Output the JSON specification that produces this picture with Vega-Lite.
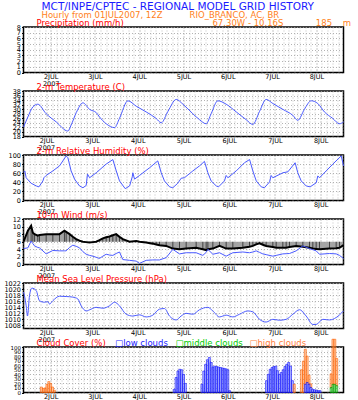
{
  "$schema": "https://vega.github.io/schema/vega-lite/v6.json",
  "background": "white",
  "padding": {"left": 2.5, "top": 0, "right": 0, "bottom": 0},
  "config": {
    "font": "DejaVu Sans",
    "view": {"stroke": "black", "strokeWidth": 1.5},
    "axis": {"labelFont": "DejaVu Sans", "labelFontSize": 6.5, "labelColor": "black", "labelOverlap": false, "domain": false, "grid": true, "gridDash": [1, 2], "gridColor": "#a0a0a0", "gridWidth": 0.8, "tickColor": "black", "tickSize": 2, "labelPadding": 1},
    "text": {"font": "DejaVu Sans", "align": "left", "baseline": "alphabetic"}
  },
  "datasets": {
    "precip": [{"h": 0, "p": 0}, {"h": 24, "p": 0}, {"h": 48, "p": 0}, {"h": 72, "p": 0}, {"h": 96, "p": 0}, {"h": 120, "p": 0}, {"h": 144, "p": 0}, {"h": 168, "p": 0}],
    "temp": [{"h":0,"t":22.1},{"h":2.3,"t":26.6},{"h":4.9,"t":31},{"h":7.5,"t":32.2},{"h":11.9,"t":28},{"h":17.2,"t":24.4},{"h":23.3,"t":20.4},{"h":25,"t":23},{"h":27.7,"t":28.5},{"h":31.2,"t":32.8},{"h":34.7,"t":29.9},{"h":38.2,"t":28.5},{"h":39.9,"t":26.6},{"h":43.4,"t":23.6},{"h":47.8,"t":21.9},{"h":50.4,"t":26},{"h":54.8,"t":33.7},{"h":59.2,"t":31.3},{"h":64.4,"t":28.8},{"h":69.7,"t":25.9},{"h":72.3,"t":24},{"h":75.8,"t":29},{"h":80.2,"t":34.3},{"h":83.7,"t":32.2},{"h":88.9,"t":28},{"h":92.4,"t":25.4},{"h":95.9,"t":23.6},{"h":98.5,"t":28},{"h":102,"t":33.7},{"h":106.4,"t":32.2},{"h":111.7,"t":28.8},{"h":116.9,"t":25.4},{"h":120.4,"t":23.3},{"h":123.9,"t":29},{"h":127.4,"t":34.3},{"h":130.9,"t":32.5},{"h":136.2,"t":29.9},{"h":141.4,"t":27.3},{"h":144,"t":25.1},{"h":147.5,"t":30},{"h":151,"t":33.7},{"h":154.5,"t":32.5},{"h":158,"t":28.8},{"h":162.4,"t":25.9},{"h":165.9,"t":23.6},{"h":168,"t":24.4}],
    "rh": [{"h":0,"r":62},{"h":0.7,"r":65},{"h":1.4,"r":50},{"h":4.0,"r":38},{"h":6.7,"r":32},{"h":8.1,"r":30},{"h":10.2,"r":43},{"h":10.7,"r":50},{"h":11.9,"r":55},{"h":15.4,"r":65},{"h":18.9,"r":76},{"h":22.4,"r":98},{"h":23.3,"r":94},{"h":25.0,"r":65},{"h":26.8,"r":47},{"h":29.4,"r":32},{"h":31.2,"r":28},{"h":32.9,"r":33},{"h":33.6,"r":58},{"h":34.7,"r":50},{"h":38.2,"r":61},{"h":43.4,"r":80},{"h":46.9,"r":90},{"h":48.7,"r":65},{"h":50.4,"r":43},{"h":53.4,"r":26},{"h":55.7,"r":32},{"h":57.1,"r":52},{"h":57.4,"r":61},{"h":58.3,"r":47},{"h":60.9,"r":55},{"h":66.2,"r":72},{"h":70.5,"r":87},{"h":72.3,"r":61},{"h":74.0,"r":43},{"h":76.7,"r":30},{"h":78.4,"r":28},{"h":81.0,"r":38},{"h":82.8,"r":49},{"h":84.5,"r":50},{"h":88.9,"r":65},{"h":92.4,"r":76},{"h":95.0,"r":86},{"h":96.8,"r":61},{"h":98.5,"r":43},{"h":101.2,"r":32},{"h":102.4,"r":30},{"h":105.5,"r":43},{"h":106.4,"r":55},{"h":107.3,"r":50},{"h":111.7,"r":65},{"h":116.0,"r":83},{"h":118.7,"r":90},{"h":120.4,"r":65},{"h":122.2,"r":43},{"h":124.8,"r":30},{"h":126.5,"r":28},{"h":129.2,"r":41},{"h":130.0,"r":55},{"h":130.9,"r":50},{"h":136.2,"r":61},{"h":138.8,"r":63},{"h":142.6,"r":83},{"h":144.0,"r":61},{"h":145.8,"r":43},{"h":148.4,"r":32},{"h":150.5,"r":30},{"h":153.7,"r":39},{"h":154.5,"r":54},{"h":155.4,"r":50},{"h":158.9,"r":65},{"h":162.4,"r":80},{"h":166.8,"r":98},{"h":168,"r":76}],
    "wind": [{"h":0,"ws":4.2,"vec":6.0},{"h":2.3,"ws":4.4,"vec":8.9},{"h":4.0,"ws":6.2,"vec":10.2},{"h":4.9,"ws":5.5,"vec":8.4},{"h":5.8,"ws":4.9,"vec":8.0},{"h":7.5,"ws":4.5,"vec":7.6},{"h":8.4,"ws":4.4,"vec":7.8},{"h":11.9,"ws":2.8,"vec":8.0},{"h":15.4,"ws":3.7,"vec":8.0},{"h":18.9,"ws":3.6,"vec":8.0},{"h":21.5,"ws":3.6,"vec":8.9},{"h":22.4,"ws":3.6,"vec":8.6},{"h":24.2,"ws":4.5,"vec":8.0},{"h":25.9,"ws":5.1,"vec":7.3},{"h":27.65,"ws":4.8,"vec":6.7},{"h":29.4,"ws":4.4,"vec":6.3},{"h":31.15,"ws":3.4,"vec":6.0},{"h":32.9,"ws":2.7,"vec":5.9},{"h":34.65,"ws":2.4,"vec":5.8},{"h":36.4,"ws":2.2,"vec":5.9},{"h":38.15,"ws":1.9,"vec":6.0},{"h":39.9,"ws":1.6,"vec":6.4},{"h":41.65,"ws":2.2,"vec":6.9},{"h":43.4,"ws":2.7,"vec":7.2},{"h":45.15,"ws":2.5,"vec":7.4},{"h":46.9,"ws":2.4,"vec":7.7},{"h":48.65,"ws":2.9,"vec":8.0},{"h":50.4,"ws":3.3,"vec":7.3},{"h":52.15,"ws":1.3,"vec":6.7},{"h":55.65,"ws":1.1,"vec":6.0},{"h":59.15,"ws":0.9,"vec":6.2},{"h":60.9,"ws":0.3,"vec":6.0},{"h":64.4,"ws":1.1,"vec":5.8},{"h":67.9,"ws":1.2,"vec":5.5},{"h":69.65,"ws":1.2,"vec":5.3},{"h":71.4,"ws":1.2,"vec":5.1},{"h":74.9,"ws":1.8,"vec":4.9},{"h":78.4,"ws":4.0,"vec":4.2},{"h":81.9,"ws":2.8,"vec":4.0},{"h":85.4,"ws":3.1,"vec":4.2},{"h":90.65,"ws":3.1,"vec":4.4},{"h":94.15,"ws":2.4,"vec":4.0},{"h":95.9,"ws":3.2,"vec":3.8},{"h":96.8,"ws":4.0,"vec":4.0},{"h":99.4,"ws":2.7,"vec":4.2},{"h":102.9,"ws":3.1,"vec":4.9},{"h":106.4,"ws":2.2,"vec":4.2},{"h":109.9,"ws":3.1,"vec":4.2},{"h":115.15,"ws":3.3,"vec":4.4},{"h":118.65,"ws":3.1,"vec":4.7},{"h":120.4,"ws":3.3,"vec":4.9},{"h":122.15,"ws":3.6,"vec":5.3},{"h":123.9,"ws":3.2,"vec":5.6},{"h":125.65,"ws":2.8,"vec":5.2},{"h":127.4,"ws":2.6,"vec":4.9},{"h":130.9,"ws":2.2,"vec":4.6},{"h":132.65,"ws":2.4,"vec":4.4},{"h":136.15,"ws":2.8,"vec":4.4},{"h":137.9,"ws":2.85,"vec":4.4},{"h":139.65,"ws":2.9,"vec":4.6},{"h":143.15,"ws":3.6,"vec":4.9},{"h":146.65,"ws":4.9,"vec":4.7},{"h":150.15,"ws":4.2,"vec":4.4},{"h":151.9,"ws":3.9,"vec":4.2},{"h":153.65,"ws":3.6,"vec":4.1},{"h":155.4,"ws":2.7,"vec":4.0},{"h":160.65,"ws":2.9,"vec":4.2},{"h":164.15,"ws":2.8,"vec":4.3},{"h":165.9,"ws":2.4,"vec":4.4},{"h":168,"ws":1.6,"vec":5.1}],
    "mslp": [{"h":0,"p":1019.0},{"h":0.5,"p":1017.8},{"h":1.4,"p":1014.4},{"h":2.1,"p":1011.0},{"h":3.15,"p":1017.8},{"h":4.4,"p":1020.3},{"h":6.65,"p":1019.5},{"h":8.4,"p":1016.1},{"h":11.0,"p":1015.6},{"h":12.8,"p":1015.8},{"h":13.65,"p":1015.0},{"h":15.4,"p":1016.1},{"h":18.9,"p":1017.6},{"h":22.4,"p":1017.5},{"h":25.9,"p":1017.3},{"h":28.5,"p":1016.7},{"h":30.3,"p":1014.4},{"h":32.9,"p":1012.7},{"h":35.5,"p":1013.3},{"h":38.15,"p":1013.9},{"h":41.65,"p":1013.6},{"h":45.15,"p":1014.4},{"h":47.8,"p":1015.6},{"h":50.4,"p":1014.4},{"h":53.9,"p":1011.6},{"h":57.4,"p":1011.0},{"h":60.9,"p":1011.4},{"h":64.4,"p":1010.7},{"h":67.9,"p":1011.3},{"h":71.4,"p":1013.3},{"h":74.0,"p":1013.5},{"h":76.65,"p":1011.0},{"h":80.15,"p":1009.7},{"h":82.75,"p":1011.0},{"h":85.4,"p":1011.9},{"h":88.9,"p":1011.6},{"h":92.4,"p":1013.1},{"h":96.75,"p":1013.9},{"h":99.4,"p":1012.7},{"h":102.9,"p":1010.7},{"h":106.4,"p":1011.3},{"h":109.9,"p":1010.7},{"h":113.4,"p":1011.6},{"h":117.75,"p":1012.7},{"h":120.4,"p":1012.4},{"h":123.9,"p":1009.9},{"h":127.4,"p":1009.0},{"h":130.9,"p":1009.9},{"h":134.4,"p":1009.6},{"h":137.9,"p":1009.9},{"h":141.4,"p":1011.6},{"h":144.9,"p":1013.1},{"h":148.4,"p":1011.0},{"h":151.9,"p":1008.2},{"h":153.65,"p":1008.2},{"h":157.15,"p":1009.9},{"h":160.65,"p":1009.7},{"h":164.15,"p":1010.5},{"h":168,"p":1012.7}],
    "cloud": [
      {"h":7,"type":"high","pct":12},{"h":8,"type":"high","pct":9},{"h":9,"type":"high","pct":10},{"h":10,"type":"high","pct":18},{"h":11,"type":"high","pct":24},{"h":12,"type":"high","pct":20},{"h":13,"type":"high","pct":12},{"h":14,"type":"high","pct":5},
      {"h":79,"type":"low","pct":7},{"h":80,"type":"low","pct":33},{"h":81,"type":"low","pct":47},{"h":82,"type":"low","pct":51},{"h":83,"type":"low","pct":50},{"h":84,"type":"low","pct":40},{"h":85,"type":"low","pct":20},
      {"h":94,"type":"low","pct":18},{"h":95,"type":"low","pct":47},{"h":96,"type":"low","pct":62},{"h":97,"type":"low","pct":72},{"h":98,"type":"low","pct":77},{"h":99,"type":"low","pct":66},{"h":100,"type":"low","pct":56},{"h":101,"type":"low","pct":58},{"h":102,"type":"low","pct":57},{"h":103,"type":"low","pct":56},{"h":104,"type":"low","pct":55},{"h":105,"type":"low","pct":54},{"h":106,"type":"low","pct":53},{"h":107,"type":"low","pct":52},{"h":108,"type":"low","pct":50},{"h":109,"type":"low","pct":4},
      {"h":129,"type":"low","pct":26},{"h":130,"type":"low","pct":40},{"h":131,"type":"low","pct":51},{"h":132,"type":"low","pct":55},{"h":133,"type":"low","pct":57},{"h":134,"type":"low","pct":58},{"h":135,"type":"low","pct":48},{"h":136,"type":"low","pct":40},{"h":137,"type":"low","pct":44},{"h":138,"type":"low","pct":50},{"h":139,"type":"low","pct":57},{"h":140,"type":"low","pct":62},{"h":141,"type":"low","pct":66},{"h":142,"type":"low","pct":58},{"h":143,"type":"low","pct":26},
      {"h":144,"type":"high","pct":18},
      {"h":148,"type":"high","pct":50},{"h":149,"type":"high","pct":69},{"h":150,"type":"high","pct":77},{"h":151,"type":"high","pct":58},{"h":152,"type":"high","pct":20},{"h":153,"type":"high","pct":8},
      {"h":150,"type":"low","pct":18},{"h":151,"type":"low","pct":22},{"h":152,"type":"low","pct":18},{"h":153,"type":"low","pct":11},{"h":154,"type":"low","pct":7},{"h":155,"type":"low","pct":6},{"h":156,"type":"low","pct":5},{"h":157,"type":"low","pct":4},{"h":158,"type":"low","pct":4},
      {"h":164,"type":"high","pct":30},{"h":165,"type":"high","pct":99},{"h":166,"type":"high","pct":99},{"h":167,"type":"high","pct":60},
      {"h":164,"type":"middle","pct":11},{"h":165,"type":"middle","pct":18},{"h":166,"type":"middle","pct":18},{"h":167,"type":"middle","pct":15}
    ]
  },
  "spacing": 18,
  "bounds": "flush",
  "vconcat": [
    {
      "width": 320, "height": 45.5,
      "resolve": {"scale": {"x": "independent", "y": "independent"}},
      "layer": [
        {"data": {"name": "precip"}, "mark": {"type": "bar", "color": "#4a5aff", "width": 2},
          "encoding": {
            "x": {"field": "h", "type": "quantitative", "title": null, "scale": {"domain": [0, 168], "nice": false, "zero": false},
              "axis": {"values": [0,3,6,9,12,15,18,21,24,27,30,33,36,39,42,45,48,51,54,57,60,63,66,69,72,75,78,81,84,87,90,93,96,99,102,105,108,111,114,117,120,123,126,129,132,135,138,141,144,147,150,153,156,159,162,165,168], "labelExpr": "datum.value % 24 == 12 ? (datum.value == 12 ? ['2JUL', '2007'] : (floor(datum.value / 24) + 2) + 'JUL') : ''", "ticks": false, "labelFlush": false, "labelLineHeight": 6.5, "gridColor": {"condition": {"test": "datum.value % 24 == 12", "value": "#707070"}, "value": "#b4b4b4"}}},
            "y": {"field": "p", "type": "quantitative", "title": null, "scale": {"domain": [0, 8], "nice": false}, "axis": {"values": [0,1,2,3,4,5,6,7,8]}}}},
        {"data": {"values": [{}]}, "mark": {"type": "text", "text": "MCT/INPE/CPTEC - REGIONAL MODEL GRID HISTORY", "color": "#1a1aff", "fontSize": 10.5, "dy": -17.5},
          "encoding": {"x": {"datum": 9.45, "scale": {"domain": [0, 168], "nice": false, "zero": false}, "axis": null}, "y": {"datum": 1, "scale": {"domain": [0, 1], "nice": false}, "axis": null}}},
        {"data": {"values": [{}]}, "mark": {"type": "text", "text": "Hourly from 01JUL2007, 12Z \u00a0\u00a0\u00a0\u00a0\u00a0\u00a0\u00a0\u00a0 RIO_BRANCO, AC, BR", "color": "#ff7f1a", "fontSize": 8.5, "dy": -9.5},
          "encoding": {"x": {"datum": 9.45, "scale": {"domain": [0, 168], "nice": false, "zero": false}, "axis": null}, "y": {"datum": 1, "scale": {"domain": [0, 1], "nice": false}, "axis": null}}},
        {"data": {"values": [{}]}, "mark": {"type": "text", "text": "67.30W - 10.16S \u00a0\u00a0\u00a0\u00a0\u00a0\u00a0\u00a0\u00a0\u00a0\u00a0 185 \u00a0\u00a0 m", "color": "#ff7f1a", "fontSize": 8.5, "dy": -1.5},
          "encoding": {"x": {"datum": 99.2, "scale": {"domain": [0, 168], "nice": false, "zero": false}, "axis": null}, "y": {"datum": 1, "scale": {"domain": [0, 1], "nice": false}, "axis": null}}},
        {"data": {"values": [{}]}, "mark": {"type": "text", "text": "Precipitation (mm/h)", "color": "#ff0000", "fontSize": 8.5, "dy": -1.5},
          "encoding": {"x": {"datum": 6.8, "scale": {"domain": [0, 168], "nice": false, "zero": false}, "axis": null}, "y": {"datum": 1, "scale": {"domain": [0, 1], "nice": false}, "axis": null}}}
      ]
    },
    {
      "width": 320, "height": 45.5,
      "resolve": {"scale": {"x": "independent", "y": "independent"}},
      "layer": [
        {"data": {"name": "temp"}, "mark": {"type": "line", "color": "#4a5aff", "strokeWidth": 1, "interpolate": "monotone"},
          "encoding": {
            "x": {"field": "h", "type": "quantitative", "title": null, "scale": {"domain": [0, 168], "nice": false, "zero": false},
              "axis": {"values": [0,3,6,9,12,15,18,21,24,27,30,33,36,39,42,45,48,51,54,57,60,63,66,69,72,75,78,81,84,87,90,93,96,99,102,105,108,111,114,117,120,123,126,129,132,135,138,141,144,147,150,153,156,159,162,165,168], "labelExpr": "datum.value % 24 == 12 ? (datum.value == 12 ? ['2JUL', '2007'] : (floor(datum.value / 24) + 2) + 'JUL') : ''", "ticks": false, "labelFlush": false, "labelLineHeight": 6.5, "gridColor": {"condition": {"test": "datum.value % 24 == 12", "value": "#707070"}, "value": "#b4b4b4"}}},
            "y": {"field": "t", "type": "quantitative", "title": null, "scale": {"domain": [18, 38], "nice": false, "zero": false}, "axis": {"values": [18,20,22,24,26,28,30,32,34,36,38]}}}},
        {"data": {"values": [{}]}, "mark": {"type": "text", "text": "2-m Temperature (C)", "color": "#ff0000", "fontSize": 8.5, "dy": -1.5},
          "encoding": {"x": {"datum": 6.8, "scale": {"domain": [0, 168], "nice": false, "zero": false}, "axis": null}, "y": {"datum": 1, "scale": {"domain": [0, 1], "nice": false}, "axis": null}}}
      ]
    },
    {
      "width": 320, "height": 45.5,
      "resolve": {"scale": {"x": "independent", "y": "independent"}},
      "layer": [
        {"data": {"name": "rh"}, "mark": {"type": "line", "color": "#4a5aff", "strokeWidth": 1},
          "encoding": {
            "x": {"field": "h", "type": "quantitative", "title": null, "scale": {"domain": [0, 168], "nice": false, "zero": false},
              "axis": {"values": [0,3,6,9,12,15,18,21,24,27,30,33,36,39,42,45,48,51,54,57,60,63,66,69,72,75,78,81,84,87,90,93,96,99,102,105,108,111,114,117,120,123,126,129,132,135,138,141,144,147,150,153,156,159,162,165,168], "labelExpr": "datum.value % 24 == 12 ? (datum.value == 12 ? ['2JUL', '2007'] : (floor(datum.value / 24) + 2) + 'JUL') : ''", "ticks": false, "labelFlush": false, "labelLineHeight": 6.5, "gridColor": {"condition": {"test": "datum.value % 24 == 12", "value": "#707070"}, "value": "#b4b4b4"}}},
            "y": {"field": "r", "type": "quantitative", "title": null, "scale": {"domain": [0, 100], "nice": false}, "axis": {"values": [0,20,40,60,80,100]}}}},
        {"data": {"values": [{}]}, "mark": {"type": "text", "text": "2-m Relative Humidity (%)", "color": "#ff0000", "fontSize": 8.5, "dy": -1.5},
          "encoding": {"x": {"datum": 6.8, "scale": {"domain": [0, 168], "nice": false, "zero": false}, "axis": null}, "y": {"datum": 1, "scale": {"domain": [0, 1], "nice": false}, "axis": null}}}
      ]
    },
    {
      "width": 320, "height": 45.5,
      "resolve": {"scale": {"x": "independent", "y": "independent"}},
      "layer": [
        {"data": {"name": "wind"},
          "encoding": {
            "x": {"field": "h", "type": "quantitative", "title": null, "scale": {"domain": [0, 168], "nice": false, "zero": false},
              "axis": {"values": [0,3,6,9,12,15,18,21,24,27,30,33,36,39,42,45,48,51,54,57,60,63,66,69,72,75,78,81,84,87,90,93,96,99,102,105,108,111,114,117,120,123,126,129,132,135,138,141,144,147,150,153,156,159,162,165,168], "labelExpr": "datum.value % 24 == 12 ? (datum.value == 12 ? ['2JUL', '2007'] : (floor(datum.value / 24) + 2) + 'JUL') : ''", "ticks": false, "labelFlush": false, "labelLineHeight": 6.5, "gridColor": {"condition": {"test": "datum.value % 24 == 12", "value": "#707070"}, "value": "#b4b4b4"}}}
          },
          "layer": [
            {"mark": {"type": "area", "color": "#9a9a9a", "opacity": 0.9},
              "encoding": {
                "y": {"field": "vec", "type": "quantitative", "title": null, "scale": {"domain": [0, 12], "nice": false}, "axis": {"values": [0,2,4,6,8,10,12]}},
                "y2": {"datum": 6}}},
            {"mark": {"type": "rule", "color": "black", "strokeWidth": 0.6},
              "encoding": {"y": {"field": "vec", "type": "quantitative", "title": null, "scale": {"domain": [0, 12], "nice": false}, "axis": {"values": [0,2,4,6,8,10,12]}}, "y2": {"datum": 6}}},
            {"mark": {"type": "line", "color": "black", "strokeWidth": 2},
              "encoding": {"y": {"field": "vec", "type": "quantitative", "title": null, "scale": {"domain": [0, 12], "nice": false}, "axis": {"values": [0,2,4,6,8,10,12]}}}},
            {"mark": {"type": "line", "color": "#4a5aff", "strokeWidth": 1},
              "encoding": {"y": {"field": "ws", "type": "quantitative", "title": null, "scale": {"domain": [0, 12], "nice": false}, "axis": {"values": [0,2,4,6,8,10,12]}}}}
          ]},
        {"data": {"values": [{}]}, "mark": {"type": "text", "text": "10-m Wind (m/s)", "color": "#ff0000", "fontSize": 8.5, "dy": -1.5},
          "encoding": {"x": {"datum": 6.8, "scale": {"domain": [0, 168], "nice": false, "zero": false}, "axis": null}, "y": {"datum": 1, "scale": {"domain": [0, 1], "nice": false}, "axis": null}}}
      ]
    },
    {
      "width": 320, "height": 45.5,
      "resolve": {"scale": {"x": "independent", "y": "independent"}},
      "layer": [
        {"data": {"name": "mslp"}, "mark": {"type": "line", "color": "#4a5aff", "strokeWidth": 1, "interpolate": "monotone"},
          "encoding": {
            "x": {"field": "h", "type": "quantitative", "title": null, "scale": {"domain": [0, 168], "nice": false, "zero": false},
              "axis": {"values": [0,3,6,9,12,15,18,21,24,27,30,33,36,39,42,45,48,51,54,57,60,63,66,69,72,75,78,81,84,87,90,93,96,99,102,105,108,111,114,117,120,123,126,129,132,135,138,141,144,147,150,153,156,159,162,165,168], "labelExpr": "datum.value % 24 == 12 ? (datum.value == 12 ? ['2JUL', '2007'] : (floor(datum.value / 24) + 2) + 'JUL') : ''", "ticks": false, "labelFlush": false, "labelLineHeight": 6.5, "gridColor": {"condition": {"test": "datum.value % 24 == 12", "value": "#707070"}, "value": "#b4b4b4"}}},
            "y": {"field": "p", "type": "quantitative", "title": null, "scale": {"domain": [1006.85, 1022], "nice": false, "zero": false}, "axis": {"values": [1008,1010,1012,1014,1016,1018,1020,1022], "format": "d"}}}},
        {"data": {"values": [{}]}, "mark": {"type": "text", "text": "Mean Sea Level Pressure (hPa)", "color": "#ff0000", "fontSize": 8.5, "dy": -1.5},
          "encoding": {"x": {"datum": 6.8, "scale": {"domain": [0, 168], "nice": false, "zero": false}, "axis": null}, "y": {"datum": 1, "scale": {"domain": [0, 1], "nice": false}, "axis": null}}}
      ]
    },
    {
      "width": 320, "height": 45.5,
      "resolve": {"scale": {"x": "independent", "y": "independent"}},
      "layer": [
        {"data": {"name": "cloud"}, "mark": {"type": "bar", "width": 2, "fillOpacity": 0.45, "strokeWidth": 0.6},
          "encoding": {
            "x": {"field": "h", "type": "quantitative", "title": null, "scale": {"domain": [0, 168], "nice": false, "zero": false},
              "axis": {"values": [0,3,6,9,12,15,18,21,24,27,30,33,36,39,42,45,48,51,54,57,60,63,66,69,72,75,78,81,84,87,90,93,96,99,102,105,108,111,114,117,120,123,126,129,132,135,138,141,144,147,150,153,156,159,162,165,168], "labelExpr": "datum.value % 24 == 12 ? (datum.value == 12 ? ['2JUL', '2007'] : (floor(datum.value / 24) + 2) + 'JUL') : ''", "ticks": false, "labelFlush": false, "labelLineHeight": 6.5, "gridColor": {"condition": {"test": "datum.value % 24 == 12", "value": "#707070"}, "value": "#b4b4b4"}}},
            "y": {"field": "pct", "type": "quantitative", "title": null, "scale": {"domain": [0, 100], "nice": false}, "axis": {"values": [0,10,20,30,40,50,60,70,80,90,100], "labelFontSize": 5.5}},
            "color": {"field": "type", "type": "nominal", "scale": {"domain": ["low", "middle", "high"], "range": ["#5a6aff", "#30d030", "#ff9040"]}, "legend": null},
            "stroke": {"field": "type", "type": "nominal", "scale": {"domain": ["low", "middle", "high"], "range": ["#1010ff", "#00a000", "#ff6000"]}, "legend": null}
          }},
        {"data": {"values": [{}]}, "mark": {"type": "text", "text": "Cloud Cover (%)", "color": "#ff0000", "fontSize": 8.5, "dy": -1.5},
          "encoding": {"x": {"datum": 6.8, "scale": {"domain": [0, 168], "nice": false, "zero": false}, "axis": null}, "y": {"datum": 1, "scale": {"domain": [0, 1], "nice": false}, "axis": null}}},
        {"data": {"values": [{}]}, "mark": {"type": "text", "text": "□low clouds", "color": "#1a1aff", "fontSize": 8.5, "dy": -1.5},
          "encoding": {"x": {"datum": 48.1, "scale": {"domain": [0, 168], "nice": false, "zero": false}, "axis": null}, "y": {"datum": 1, "scale": {"domain": [0, 1], "nice": false}, "axis": null}}},
        {"data": {"values": [{}]}, "mark": {"type": "text", "text": "□middle clouds", "color": "#00cc00", "fontSize": 8.5, "dy": -1.5},
          "encoding": {"x": {"datum": 79.8, "scale": {"domain": [0, 168], "nice": false, "zero": false}, "axis": null}, "y": {"datum": 1, "scale": {"domain": [0, 1], "nice": false}, "axis": null}}},
        {"data": {"values": [{}]}, "mark": {"type": "text", "text": "□high clouds", "color": "#ff8040", "fontSize": 8.5, "dy": -1.5},
          "encoding": {"x": {"datum": 118.6, "scale": {"domain": [0, 168], "nice": false, "zero": false}, "axis": null}, "y": {"datum": 1, "scale": {"domain": [0, 1], "nice": false}, "axis": null}}}
      ]
    }
  ]
}
